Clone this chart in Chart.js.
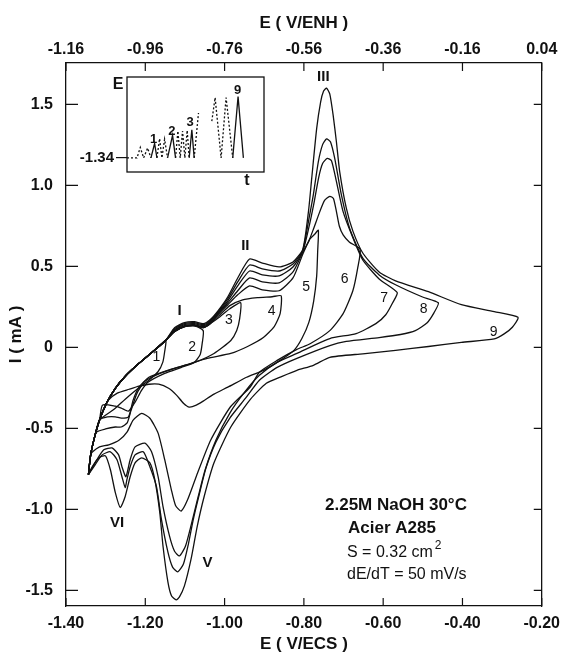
<!DOCTYPE html>
<html>
<head>
<meta charset="utf-8">
<script src="https://cdn.jsdelivr.net/npm/chart.js@4.4.1/dist/chart.umd.min.js"></script>
<style>
  html, body { margin: 0; padding: 0; background: #fff; }
  #wrap { position: relative; width: 568px; height: 657px; }
  #main { position: absolute; left: 0; top: 0; }
  #inset { position: absolute; left: 60px; top: 66px; }
</style>
</head>
<body>
<div id="wrap">
  <canvas id="main" width="568" height="657"></canvas>
  <canvas id="inset" width="210" height="125"></canvas>
</div>
<script>
// ticks
const ecsTicks = [-1.40, -1.20, -1.00, -0.80, -0.60, -0.40, -0.20];
const enhTicks = [-1.16, -0.96, -0.76, -0.56, -0.36, -0.16, 0.04];
const iTicks = [-1.5, -1.0, -0.5, 0, 0.5, 1.0, 1.5];
const insetTicks = [-1.34];

// common anodic start from -1.34 V (all cycles)
const startE = [-1.3435, -1.3378, -1.3278, -1.3154, -1.2980, -1.2756, -1.2482, -1.2158, -1.1835, -1.1486];
const startI = [-0.785, -0.663, -0.552, -0.448, -0.344, -0.252, -0.172, -0.098, -0.031, 0.043];

// rest of each cycle (anodic end + cathodic return)
const c1E = [-1.1511, -1.1560, -1.1680, -1.1910, -1.2208, -1.2506, -1.2780, -1.3154, -1.3278, -1.3378, -1.3435];
const c1I = [-0.025, -0.092, -0.150, -0.202, -0.258, -0.319, -0.380, -0.448, -0.552, -0.663, -0.785];

const c2E = [-1.1262, -1.1013, -1.0764, -1.0540, -1.0565, -1.0615, -1.0764, -1.1088, -1.1510, -1.1934, -1.2091, -1.2258, -1.2424, -1.2606, -1.2756, -1.3079, -1.3154, -1.3278, -1.3378, -1.3435];
const c2I = [0.098, 0.129, 0.135, 0.104, 0.025, -0.043, -0.092, -0.123, -0.160, -0.215, -0.264, -0.337, -0.393, -0.374, -0.362, -0.356, -0.448, -0.552, -0.663, -0.785];

const c3E = [-1.1262, -1.1013, -1.0764, -1.0540, -1.0366, -1.0117, -0.9868, -0.9594, -0.9620, -0.9694, -0.9843, -1.0267, -1.0690, -1.1088, -1.1510, -1.1909, -1.2158, -1.2307, -1.2424, -1.2606, -1.2756, -1.2955, -1.3154, -1.3278, -1.3378, -1.3435];
const c3I = [0.098, 0.129, 0.135, 0.123, 0.147, 0.190, 0.239, 0.276, 0.178, 0.104, 0.043, -0.037, -0.086, -0.117, -0.147, -0.184, -0.245, -0.325, -0.428, -0.436, -0.428, -0.429, -0.448, -0.552, -0.663, -0.785];

const c4E = [-1.1262, -1.1013, -1.0764, -1.0540, -1.0366, -1.0117, -0.9868, -0.9544, -0.9171, -0.8798, -0.8574, -0.8599, -0.8748, -0.9022, -0.9420, -0.9843, -1.0440, -1.0839, -1.1262, -1.1685, -1.2009, -1.2208, -1.2357, -1.2457, -1.2606, -1.2756, -1.3004, -1.3228, -1.3278, -1.3378, -1.3435];
const c4I = [0.098, 0.129, 0.135, 0.123, 0.147, 0.202, 0.258, 0.294, 0.307, 0.313, 0.319, 0.209, 0.129, 0.061, 0.006, -0.037, -0.067, -0.098, -0.129, -0.166, -0.209, -0.282, -0.387, -0.466, -0.491, -0.491, -0.503, -0.521, -0.552, -0.663, -0.785];

const c5E = [-1.1262, -1.1013, -1.0764, -1.0540, -1.0366, -1.0167, -0.9918, -0.9669, -0.9370, -0.9047, -0.8624, -0.8275, -0.8026, -0.7852, -0.7727, -0.7635, -0.7652, -0.7677, -0.7752, -0.7877, -0.8051, -0.8250, -0.8599, -0.9022, -0.9445, -0.9918, -1.0267, -1.0540, -1.0714, -1.0889, -1.1038, -1.1213, -1.1412, -1.1661, -1.1910, -1.2158, -1.2407, -1.2706, -1.2930, -1.3029, -1.3154, -1.3278, -1.3378, -1.3435];
const c5I = [0.098, 0.129, 0.135, 0.123, 0.147, 0.202, 0.264, 0.325, 0.380, 0.356, 0.350, 0.429, 0.577, 0.669, 0.699, 0.724, 0.595, 0.442, 0.288, 0.153, 0.055, -0.018, -0.080, -0.141, -0.184, -0.245, -0.288, -0.331, -0.356, -0.368, -0.344, -0.294, -0.252, -0.227, -0.227, -0.239, -0.258, -0.282, -0.325, -0.375, -0.448, -0.552, -0.663, -0.785];

const c6E = [-1.1262, -1.1013, -1.0764, -1.0540, -1.0366, -1.0167, -0.9918, -0.9669, -0.9370, -0.9047, -0.8624, -0.8275, -0.8026, -0.7877, -0.7760, -0.7596, -0.7478, -0.7346, -0.7255, -0.7180, -0.7105, -0.7006, -0.6849, -0.6582, -0.6641, -0.6765, -0.7014, -0.7346, -0.7844, -0.8176, -0.8674, -0.9122, -0.9353, -0.9851, -1.0349, -1.0682, -1.0931, -1.1096, -1.1237, -1.1344, -1.1510, -1.1677, -1.1884, -1.2091, -1.2307, -1.2457, -1.2656, -1.2922, -1.3154, -1.3328, -1.3378, -1.3435];
const c6I = [0.104, 0.135, 0.141, 0.129, 0.153, 0.208, 0.276, 0.350, 0.429, 0.405, 0.399, 0.466, 0.589, 0.656, 0.730, 0.840, 0.908, 0.933, 0.920, 0.840, 0.748, 0.693, 0.650, 0.606, 0.493, 0.350, 0.207, 0.104, 0.023, -0.012, -0.080, -0.153, -0.244, -0.366, -0.571, -0.775, -0.939, -1.010, -0.975, -0.877, -0.693, -0.529, -0.437, -0.407, -0.448, -0.521, -0.571, -0.601, -0.614, -0.644, -0.663, -0.785];

const c7E = [-1.1262, -1.1013, -1.0764, -1.0540, -1.0366, -1.0167, -0.9918, -0.9669, -0.9370, -0.9047, -0.8624, -0.8275, -0.8026, -0.7884, -0.7752, -0.7627, -0.7528, -0.7411, -0.7304, -0.7180, -0.7013, -0.6764, -0.6515, -0.6102, -0.5646, -0.5761, -0.5935, -0.6184, -0.6682, -0.7346, -0.8176, -0.8674, -0.9122, -0.9495, -0.9868, -1.0217, -1.0490, -1.0665, -1.0839, -1.0988, -1.1138, -1.1262, -1.1387, -1.1553, -1.1677, -1.1842, -1.2009, -1.2258, -1.2382, -1.2489, -1.2589, -1.2673, -1.2838, -1.3047, -1.3253, -1.3435];
const c7I = [0.110, 0.141, 0.147, 0.135, 0.159, 0.214, 0.288, 0.380, 0.472, 0.448, 0.442, 0.497, 0.595, 0.730, 0.883, 1.049, 1.135, 1.167, 1.153, 1.025, 0.840, 0.677, 0.540, 0.423, 0.339, 0.276, 0.202, 0.147, 0.086, 0.055, -0.037, -0.092, -0.172, -0.276, -0.405, -0.571, -0.755, -0.920, -1.092, -1.227, -1.287, -1.258, -1.166, -0.982, -0.798, -0.644, -0.591, -0.614, -0.693, -0.798, -0.736, -0.663, -0.620, -0.632, -0.706, -0.785];

const c8E = [-1.1262, -1.1013, -1.0764, -1.0540, -1.0366, -1.0167, -0.9918, -0.9669, -0.9370, -0.9047, -0.8624, -0.8275, -0.8026, -0.7884, -0.7760, -0.7635, -0.7528, -0.7428, -0.7330, -0.7222, -0.7055, -0.6849, -0.6515, -0.6102, -0.5687, -0.5022, -0.4609, -0.4716, -0.4890, -0.5189, -0.5562, -0.6102, -0.6931, -0.7346, -0.8176, -0.8674, -0.9122, -0.9470, -0.9868, -1.0217, -1.0466, -1.0640, -1.0789, -1.0914, -1.1038, -1.1180, -1.1312, -1.1429, -1.1593, -1.1718, -1.1884, -1.2051, -1.2258, -1.2382, -1.2464, -1.2507, -1.2589, -1.2713, -1.2880, -1.3087, -1.3296, -1.3435];
const c8I = [0.116, 0.147, 0.153, 0.141, 0.165, 0.220, 0.301, 0.405, 0.509, 0.485, 0.472, 0.515, 0.601, 0.779, 0.945, 1.147, 1.252, 1.287, 1.270, 1.167, 0.943, 0.738, 0.552, 0.448, 0.387, 0.313, 0.276, 0.215, 0.153, 0.104, 0.080, 0.061, 0.037, 0.012, -0.067, -0.123, -0.202, -0.313, -0.436, -0.583, -0.742, -0.908, -1.061, -1.215, -1.337, -1.385, -1.356, -1.264, -1.061, -0.859, -0.736, -0.644, -0.663, -0.736, -0.816, -0.865, -0.798, -0.693, -0.644, -0.663, -0.736, -0.785];

const c9E = [-1.1262, -1.1013, -1.0764, -1.0540, -1.0366, -1.0167, -0.9918, -0.9669, -0.9370, -0.9047, -0.8624, -0.8275, -0.8026, -0.7884, -0.7802, -0.7677, -0.7578, -0.7503, -0.7428, -0.7346, -0.7262, -0.7180, -0.7097, -0.6931, -0.6764, -0.6515, -0.6102, -0.5687, -0.4858, -0.4027, -0.3198, -0.2600, -0.2742, -0.2949, -0.3198, -0.4027, -0.4858, -0.5687, -0.6515, -0.7346, -0.7760, -0.8176, -0.8549, -0.8947, -0.9345, -0.9843, -1.0267, -1.0515, -1.0690, -1.0846, -1.1013, -1.1138, -1.1220, -1.1337, -1.1429, -1.1553, -1.1635, -1.1760, -1.1884, -1.2091, -1.2258, -1.2382, -1.2507, -1.2631, -1.2756, -1.2880, -1.3004, -1.3171, -1.3335, -1.3435];
const c9I = [0.122, 0.153, 0.159, 0.147, 0.171, 0.226, 0.313, 0.429, 0.546, 0.521, 0.497, 0.528, 0.607, 0.840, 1.045, 1.352, 1.515, 1.583, 1.601, 1.564, 1.434, 1.270, 1.086, 0.861, 0.718, 0.583, 0.466, 0.411, 0.344, 0.264, 0.221, 0.186, 0.125, 0.084, 0.053, 0.031, 0.006, -0.018, -0.039, -0.061, -0.110, -0.141, -0.178, -0.221, -0.319, -0.491, -0.712, -0.920, -1.104, -1.307, -1.472, -1.540, -1.558, -1.534, -1.448, -1.227, -1.018, -0.816, -0.712, -0.681, -0.712, -0.798, -0.920, -0.988, -0.896, -0.755, -0.669, -0.681, -0.736, -0.785];

// inset: potential programme E(t)
const insetT1 = [0, 3.0, 4.0, 5.0, 6.2, 7.2, 8.3, 9.0, 9.8, 10.5, 11.3, 12.2, 13.7, 14.6, 15.3, 16.0, 16.7, 17.4, 18.1, 18.7, 19.5, 20.2, 21.5];
const insetE1 = [-1.34, -1.34, -1.157, -1.34, -1.168, -1.34, -1.088, -1.34, -1.003, -1.34, -1.014, -1.34, -0.945, -1.34, -0.871, -1.34, -0.871, -1.34, -0.860, -1.34, -0.848, -1.34, -0.556];
const insetSolid1 = [0, 0, 0, 0, 0, 1, 1, 0, 0, 0, 0, 1, 1, 0, 0, 0, 0, 0, 0, 1, 1, 0];
const insetT2 = [25.5, 26.5, 28.3, 29.8, 31.8, 33.4, 35.0];
const insetE2 = [-0.699, -0.288, -1.34, -0.288, -1.34, -0.270, -1.34];
const insetSolid2 = [0, 0, 0, 0, 1, 1];

const F = "'Liberation Sans', Arial, Helvetica, sans-serif";
const blk = '#111';

const cycles = [
  [c1E, c1I], [c2E, c2I], [c3E, c3I], [c4E, c4I], [c5E, c5I],
  [c6E, c6I], [c7E, c7I], [c8E, c8I], [c9E, c9I]
];

// labels on the curves, in data units
const curveLabels = [
  ['1', -1.1717, -0.059], ['2', -1.082, 0.002], ['3', -0.9893, 0.166], ['4', -0.8815, 0.227],
  ['5', -0.7944, 0.370], ['6', -0.6973, 0.421], ['7', -0.5977, 0.305], ['8', -0.4982, 0.237],
  ['9', -0.3215, 0.094]
];
const peakLabels = [
  ['I', -1.1138, 0.227], ['II', -0.9477, 0.626], ['III', -0.751, 1.669],
  ['V', -1.043, -1.327], ['VI', -1.2713, -1.082]
];
const insetLabels = [['1', 8.0, -1.014], ['2', 13.5, -0.871], ['3', 19.0, -0.728], ['9', 33.3, -0.158]];

function fixTicks(list) {
  return function (scale) { scale.ticks = list.map(v => ({ value: v })); };
}

const insideTicks = {
  id: 'insideTicks',
  afterDraw(chart) {
    const ctx = chart.ctx, a = chart.chartArea, s = chart.scales;
    ctx.save();
    ctx.strokeStyle = blk;
    ctx.lineWidth = 1.2;
    ctx.beginPath();
    s.x.ticks.forEach(t => { const p = s.x.getPixelForValue(t.value); ctx.moveTo(p, a.bottom); ctx.lineTo(p, a.bottom - 8); });
    s.xTop.ticks.forEach(t => { const p = s.xTop.getPixelForValue(t.value); ctx.moveTo(p, a.top); ctx.lineTo(p, a.top + 8); });
    s.y.ticks.forEach(t => { const p = s.y.getPixelForValue(t.value); ctx.moveTo(a.left, p); ctx.lineTo(a.left + 12, p); });
    s.yRight.ticks.forEach(t => { const p = s.yRight.getPixelForValue(t.value); ctx.moveTo(a.right, p); ctx.lineTo(a.right - 8, p); });
    ctx.stroke();

    ctx.fillStyle = blk;
    ctx.textAlign = 'center';
    ctx.textBaseline = 'middle';
    ctx.font = '14px ' + F;
    curveLabels.forEach(l => ctx.fillText(l[0], s.x.getPixelForValue(l[1]), s.y.getPixelForValue(l[2])));
    ctx.font = 'bold 15px ' + F;
    peakLabels.forEach(l => ctx.fillText(l[0], s.x.getPixelForValue(l[1]), s.y.getPixelForValue(l[2])));

    // conditions
    ctx.textAlign = 'left';
    ctx.font = 'bold 17px ' + F;
    ctx.fillText('2.25M NaOH 30°C', 325, 505);
    ctx.fillText('Acier A285', 348, 528);
    ctx.font = '16px ' + F;
    ctx.fillText('S = 0.32 cm', 347, 553);
    const w = ctx.measureText('S = 0.32 cm').width;
    ctx.font = '12px ' + F;
    ctx.fillText('2', 347 + w + 2, 546);
    ctx.font = '16px ' + F;
    ctx.fillText('dE/dT = 50 mV/s', 347, 575);
    ctx.restore();
  }
};

const insetDecor = {
  id: 'insetDecor',
  afterDraw(chart) {
    const ctx = chart.ctx, a = chart.chartArea, s = chart.scales;
    ctx.save();
    ctx.strokeStyle = blk;
    ctx.lineWidth = 1.3;
    ctx.strokeRect(a.left, a.top, a.right - a.left, a.bottom - a.top);
    ctx.fillStyle = blk;
    ctx.textAlign = 'center';
    ctx.textBaseline = 'middle';
    ctx.font = 'bold 16px ' + F;
    ctx.fillText('E', 58, 19);
    ctx.fillText('t', 187, 115);
    ctx.font = 'bold 13px ' + F;
    insetLabels.forEach(l => ctx.fillText(l[0], s.x.getPixelForValue(l[1]), s.y.getPixelForValue(l[2])));
    ctx.restore();
  }
};

const tickFont = { family: F, size: 16, weight: 'bold' };
const titleFont = { family: F, size: 17, weight: 'bold' };
const noGrid = { display: false, drawTicks: false };

new Chart(document.getElementById('main'), {
  type: 'scatter',
  data: {
    datasets: cycles.map(c => {
      const e = startE.concat(c[0]);
      const i = startI.concat(c[1]);
      return {
        data: e.map((v, k) => ({ x: v, y: i[k] })),
        showLine: true,
        borderColor: blk,
        borderWidth: 1.3,
        pointRadius: 0,
        tension: 0.2,
        fill: false
      };
    })
  },
  options: {
    responsive: false,
    animation: false,
    devicePixelRatio: 1,
    layout: { padding: 0 },
    plugins: { legend: { display: false }, tooltip: { enabled: false } },
    scales: {
      x: {
        type: 'linear', position: 'bottom', min: -1.40, max: -0.20,
        afterBuildTicks: fixTicks(ecsTicks),
        afterFit: s => { s.height = 51; },
        grid: noGrid,
        border: { display: true, color: blk, width: 1.3 },
        ticks: { color: blk, font: tickFont, padding: 8, maxRotation: 0, autoSkip: false, callback: v => v.toFixed(2) },
        title: { display: true, text: 'E ( V/ECS )', color: blk, font: titleFont, padding: { top: 0, bottom: 2 } }
      },
      xTop: {
        type: 'linear', position: 'top', min: -1.16, max: 0.04,
        afterBuildTicks: fixTicks(enhTicks),
        afterFit: s => { s.height = 63; },
        grid: noGrid,
        border: { display: true, color: blk, width: 1.3 },
        ticks: { color: blk, font: tickFont, padding: 4, maxRotation: 0, autoSkip: false, callback: v => v.toFixed(2) },
        title: { display: true, text: 'E ( V/ENH )', color: blk, font: titleFont, padding: { top: 13, bottom: 0 } }
      },
      y: {
        type: 'linear', position: 'left', min: -1.596, max: 1.756,
        afterBuildTicks: fixTicks(iTicks),
        afterFit: s => { s.width = 66; },
        grid: noGrid,
        border: { display: true, color: blk, width: 1.3 },
        ticks: { color: blk, font: tickFont, padding: 13, autoSkip: false, callback: v => v === 0 ? '0' : v.toFixed(1) },
        title: { display: true, text: 'I ( mA )', color: blk, font: titleFont, padding: { top: 6, bottom: 0 } }
      },
      yRight: {
        type: 'linear', position: 'right', min: -1.596, max: 1.756,
        afterBuildTicks: fixTicks(iTicks),
        afterFit: s => { s.width = 20; },
        grid: noGrid,
        border: { display: true, color: blk, width: 1.3 },
        ticks: { display: false }
      }
    }
  },
  plugins: [insideTicks]
});

function insetSet(t, e, solid) {
  return {
    data: t.map((v, k) => ({ x: v, y: e[k] })),
    showLine: true,
    borderColor: blk,
    borderWidth: 1.3,
    pointRadius: 0,
    tension: 0,
    segment: { borderDash: c => solid[c.p0DataIndex] ? undefined : [2, 2] }
  };
}

new Chart(document.getElementById('inset'), {
  type: 'scatter',
  data: { datasets: [insetSet(insetT1, insetE1, insetSolid1), insetSet(insetT2, insetE2, insetSolid2)] },
  options: {
    responsive: false,
    animation: false,
    devicePixelRatio: 1,
    layout: { padding: { top: 9, right: 6, bottom: 19, left: 0 } },
    plugins: { legend: { display: false }, tooltip: { enabled: false } },
    scales: {
      x: { type: 'linear', min: 0, max: 41.2, display: false },
      y: {
        type: 'linear', min: -1.586, max: 0.073,
        afterBuildTicks: fixTicks(insetTicks),
        afterFit: s => { s.width = 67; },
        grid: { display: true, drawOnChartArea: false, drawTicks: true, tickLength: 11, color: blk, lineWidth: 1.2 },
        border: { display: false },
        ticks: { color: blk, font: { family: F, size: 15, weight: 'bold' }, padding: 2, callback: v => v.toFixed(2) }
      }
    }
  },
  plugins: [insetDecor]
});
</script>
</body>
</html>
